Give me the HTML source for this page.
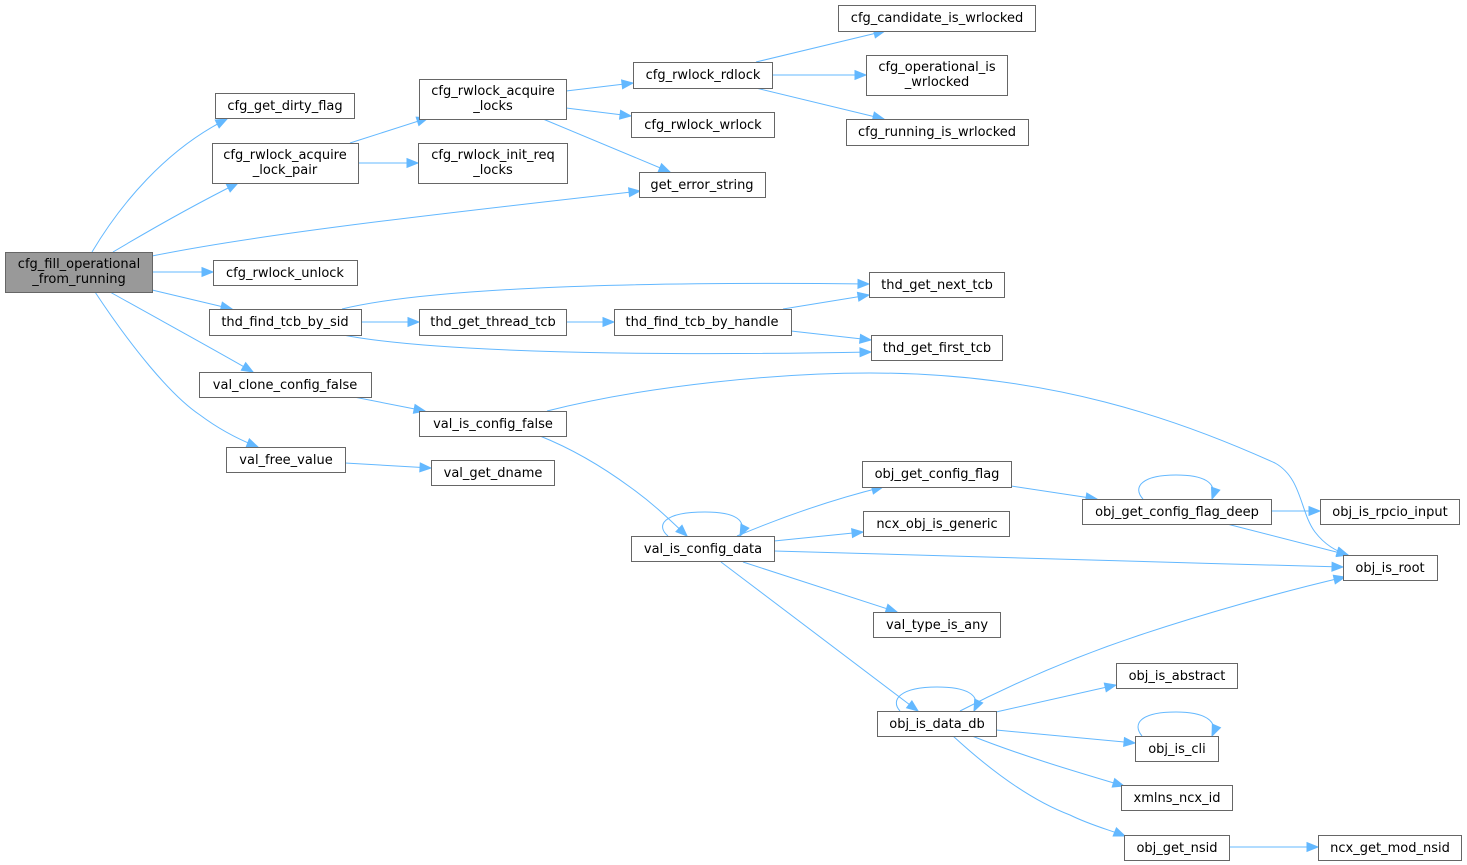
<!DOCTYPE html>
<html><head><meta charset="utf-8"><style>
html,body{margin:0;padding:0;background:#fff;}
svg{display:block;}
text{font-family:"DejaVu Sans","Liberation Sans",sans-serif;font-size:13px;fill:#000;text-anchor:middle;}
.n{fill:#fff;stroke:#666;stroke-width:1;}
.m{fill:#999;stroke:#666;stroke-width:1;}
.e{fill:none;stroke:#63b8ff;stroke-width:1;marker-end:url(#a);}
</style></head><body>
<svg width="1467" height="865" viewBox="0 0 1467 865" xmlns="http://www.w3.org/2000/svg">
<defs>
<marker id="a" markerWidth="14" markerHeight="12" refX="11" refY="5" orient="auto" markerUnits="userSpaceOnUse" overflow="visible">
<path d="M0,0.6 L11,5 L0,9.4 z" fill="#63b8ff" stroke="#63b8ff" stroke-width="1"/>
</marker>
</defs>

<!-- edges -->
<path class="e" d="M92,252 C120,205 165,150 227,119"/>
<path class="e" d="M113,252 C150,230 190,207 238,183"/>
<path class="e" d="M152,256 C250,236 400,218 640,191"/>
<path class="e" d="M152,272 L213,272"/>
<path class="e" d="M152,290 L232,309"/>
<path class="e" d="M110,292 C160,320 215,350 253,372"/>
<path class="e" d="M95,292 C130,345 170,395 200,415 C220,430 240,440 258,447"/>

<path class="e" d="M350,143 L428,118"/>
<path class="e" d="M358,163 L418,163"/>

<path class="e" d="M566,91 L633,83"/>
<path class="e" d="M566,108 L631,116"/>
<path class="e" d="M543,119 L670,172"/>

<path class="e" d="M756,62 L885,31"/>
<path class="e" d="M772,75 L866,75"/>
<path class="e" d="M756,88 L884,119"/>

<path class="e" d="M342,309 C420,290 600,281 869,284"/>
<path class="e" d="M361,322 L419,322"/>
<path class="e" d="M343,335 C420,350 600,357 871,352"/>
<path class="e" d="M566,322 L614,322"/>
<path class="e" d="M783,309 L869,295"/>
<path class="e" d="M791,331 L871,340"/>

<path class="e" d="M354,397 L425,411"/>
<path class="e" d="M345,463 L431,468"/>

<path class="e" d="M547,411 C650,385 780,373 870,373 C1050,373 1180,420 1275,463 C1302,478 1300,512 1315,532 C1325,545 1336,551 1348,555"/>
<path class="e" d="M540,436 C570,448 600,465 630,487 C655,505 670,520 687,536"/>

<path class="e" d="M668,536 C656,526 662,512 705,512 C735,512 748,520 740,536"/>
<path class="e" d="M737,536 C780,518 830,500 883,487"/>
<path class="e" d="M774,541 L863,532"/>
<path class="e" d="M774,551 C950,556 1150,562 1343,567"/>
<path class="e" d="M743,562 L897,612"/>
<path class="e" d="M721,562 L918,711"/>

<path class="e" d="M1011,486 L1097,499"/>
<path class="e" d="M1143,499 C1132,487 1142,475 1176,475 C1203,475 1218,482 1212,499"/>
<path class="e" d="M1271,511 L1320,511"/>
<path class="e" d="M1227,524 L1348,555"/>

<path class="e" d="M900,711 C890,700 900,687 937,687 C965,687 982,694 974,711"/>
<path class="e" d="M960,711 C1020,680 1080,655 1140,635 C1200,615 1280,592 1345,577"/>
<path class="e" d="M996,712 L1116,685"/>
<path class="e" d="M996,730 L1135,743"/>
<path class="e" d="M972,736 C1020,755 1070,770 1124,786"/>
<path class="e" d="M953,736 C990,770 1030,800 1070,815 C1090,825 1110,830 1125,836"/>
<path class="e" d="M1142,736 C1132,724 1140,712 1176,712 C1203,712 1219,720 1212,736"/>
<path class="e" d="M1229,847 L1318,847"/>

<!-- nodes -->
<rect class="m" x="5.5" y="252.5" width="147" height="40"/>
<text x="79" y="268">cfg_fill_operational</text>
<text x="79" y="283">_from_running</text>

<rect class="n" x="215.5" y="93.5" width="139" height="25"/>
<text x="285" y="110">cfg_get_dirty_flag</text>

<rect class="n" x="212.5" y="143.5" width="146" height="40"/>
<text x="285" y="159">cfg_rwlock_acquire</text>
<text x="285" y="174">_lock_pair</text>

<rect class="n" x="419.5" y="79.5" width="147" height="40"/>
<text x="493" y="95">cfg_rwlock_acquire</text>
<text x="493" y="110">_locks</text>

<rect class="n" x="418.5" y="143.5" width="149" height="40"/>
<text x="493" y="159">cfg_rwlock_init_req</text>
<text x="493" y="174">_locks</text>

<rect class="n" x="633.5" y="62.5" width="139" height="26"/>
<text x="703" y="79">cfg_rwlock_rdlock</text>

<rect class="n" x="631.5" y="112.5" width="143" height="25"/>
<text x="703" y="129">cfg_rwlock_wrlock</text>

<rect class="n" x="639.5" y="172.5" width="126" height="25"/>
<text x="702" y="189">get_error_string</text>

<rect class="n" x="838.5" y="5.5" width="197" height="26"/>
<text x="937" y="22">cfg_candidate_is_wrlocked</text>

<rect class="n" x="866.5" y="55.5" width="141" height="40"/>
<text x="937" y="71">cfg_operational_is</text>
<text x="937" y="86">_wrlocked</text>

<rect class="n" x="846.5" y="119.5" width="182" height="26"/>
<text x="937" y="136">cfg_running_is_wrlocked</text>

<rect class="n" x="213.5" y="260.5" width="144" height="25"/>
<text x="285" y="277">cfg_rwlock_unlock</text>

<rect class="n" x="209.5" y="309.5" width="152" height="26"/>
<text x="285" y="326">thd_find_tcb_by_sid</text>

<rect class="n" x="419.5" y="309.5" width="147" height="26"/>
<text x="493" y="326">thd_get_thread_tcb</text>

<rect class="n" x="614.5" y="309.5" width="177" height="26"/>
<text x="702" y="326">thd_find_tcb_by_handle</text>

<rect class="n" x="869.5" y="272.5" width="135" height="25"/>
<text x="937" y="289">thd_get_next_tcb</text>

<rect class="n" x="871.5" y="335.5" width="131" height="25"/>
<text x="937" y="352">thd_get_first_tcb</text>

<rect class="n" x="199.5" y="372.5" width="172" height="25"/>
<text x="285" y="389">val_clone_config_false</text>

<rect class="n" x="419.5" y="411.5" width="147" height="25"/>
<text x="493" y="428">val_is_config_false</text>

<rect class="n" x="226.5" y="447.5" width="119" height="25"/>
<text x="286" y="464">val_free_value</text>

<rect class="n" x="431.5" y="460.5" width="123" height="25"/>
<text x="493" y="477">val_get_dname</text>

<rect class="n" x="631.5" y="536.5" width="143" height="25"/>
<text x="703" y="553">val_is_config_data</text>

<rect class="n" x="862.5" y="461.5" width="149" height="26"/>
<text x="937" y="478">obj_get_config_flag</text>

<rect class="n" x="863.5" y="511.5" width="146" height="25"/>
<text x="937" y="528">ncx_obj_is_generic</text>

<rect class="n" x="1082.5" y="499.5" width="189" height="25"/>
<text x="1177" y="516">obj_get_config_flag_deep</text>

<rect class="n" x="1320.5" y="499.5" width="139" height="25"/>
<text x="1390" y="516">obj_is_rpcio_input</text>

<rect class="n" x="1343.5" y="555.5" width="94" height="25"/>
<text x="1390" y="572">obj_is_root</text>

<rect class="n" x="873.5" y="612.5" width="127" height="25"/>
<text x="937" y="629">val_type_is_any</text>

<rect class="n" x="877.5" y="711.5" width="119" height="25"/>
<text x="937" y="728">obj_is_data_db</text>

<rect class="n" x="1116.5" y="663.5" width="121" height="25"/>
<text x="1177" y="680">obj_is_abstract</text>

<rect class="n" x="1135.5" y="736.5" width="83" height="25"/>
<text x="1177" y="753">obj_is_cli</text>

<rect class="n" x="1121.5" y="785.5" width="111" height="25"/>
<text x="1177" y="802">xmlns_ncx_id</text>

<rect class="n" x="1124.5" y="835.5" width="105" height="25"/>
<text x="1177" y="852">obj_get_nsid</text>

<rect class="n" x="1318.5" y="835.5" width="143" height="25"/>
<text x="1390" y="852">ncx_get_mod_nsid</text>
</svg>
</body></html>
